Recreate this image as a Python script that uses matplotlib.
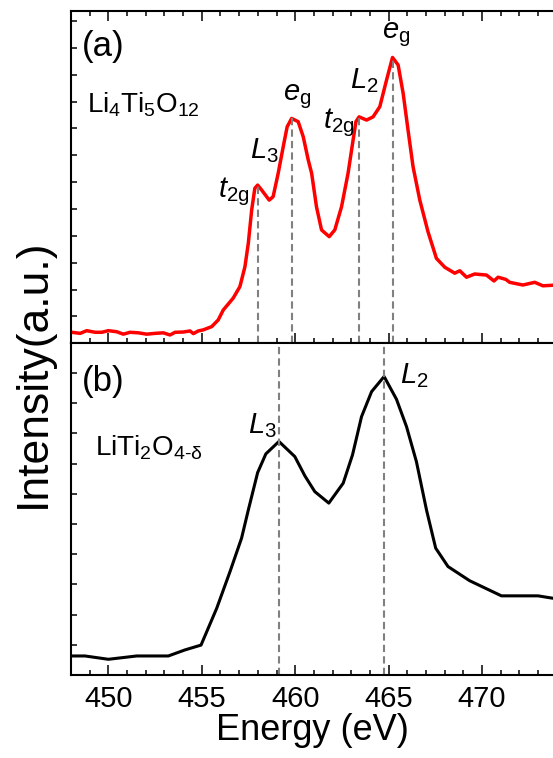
import matplotlib
matplotlib.use('Agg')
import matplotlib.pyplot as plt
from matplotlib.ticker import MultipleLocator, NullFormatter

plt.rcParams['font.family'] = ['Liberation Sans', 'DejaVu Sans']
plt.rcParams['mathtext.fontset'] = 'custom'
plt.rcParams['mathtext.rm'] = 'Liberation Sans'
plt.rcParams['mathtext.it'] = 'Liberation Sans:italic'
plt.rcParams['mathtext.bf'] = 'Liberation Sans:bold'

# (a) Li4Ti5O12, red curve
energy_a = [448.04, 448.49, 448.84, 449.29, 449.65, 450.00, 450.45, 450.80, 451.16, 451.60,
            452.05, 452.50, 452.94, 453.30, 453.57, 454.01, 454.37, 454.55, 454.81, 455.08,
            455.53, 455.88, 456.15, 456.68, 457.04, 457.31, 457.49, 457.67, 457.84, 457.99,
            458.20, 458.61, 458.82, 459.09, 459.36, 459.57, 459.81, 460.16, 460.43, 460.70,
            460.88, 461.14, 461.41, 461.82, 462.12, 462.48, 462.83, 463.10, 463.25, 463.42,
            463.82, 464.17, 464.53, 464.89, 465.21, 465.51, 465.78, 466.04, 466.31, 466.67,
            467.11, 467.56, 468.01, 468.54, 468.81, 469.17, 469.61, 470.24, 470.64, 470.86,
            471.27, 471.48, 472.19, 472.82, 473.26, 473.77]
intensity_a = [0.41, 0.37, 0.47, 0.41, 0.41, 0.47, 0.43, 0.34, 0.41, 0.39,
               0.34, 0.37, 0.39, 0.31, 0.41, 0.42, 0.46, 0.36, 0.46, 0.50,
               0.62, 0.87, 1.24, 1.68, 2.11, 2.85, 3.72, 4.96, 5.77, 5.89,
               5.71, 5.33, 5.46, 6.33, 7.32, 8.06, 8.37, 8.25, 7.69, 6.82,
               6.33, 5.08, 4.22, 3.97, 4.22, 5.08, 6.33, 7.57, 8.25, 8.43,
               8.31, 8.43, 8.81, 9.80, 10.64, 10.36, 9.30, 7.94, 6.57, 5.33,
               4.15, 3.16, 2.83, 2.61, 2.70, 2.46, 2.58, 2.54, 2.32, 2.46,
               2.38, 2.27, 2.17, 2.27, 2.14, 2.16]

# (b) LiTi2O4-delta, black curve
energy_b = [448.0, 448.75, 450.0, 451.52, 453.21, 454.10, 454.96, 455.80, 456.51, 457.13,
            457.49, 457.99, 458.43, 459.13, 459.98, 460.52, 461.05, 461.80, 462.57, 463.07,
            463.55, 464.09, 464.76, 465.42, 465.96, 466.49, 467.03, 467.52, 468.18, 469.34,
            471.04, 473.00, 473.80]
intensity_b = [0.63, 0.63, 0.52, 0.63, 0.63, 0.83, 0.99, 2.21, 3.42, 4.53,
               5.46, 6.70, 7.32, 7.73, 7.23, 6.59, 6.07, 5.69, 6.35, 7.29,
               8.55, 9.38, 9.88, 9.13, 8.22, 7.06, 5.46, 4.20, 3.59, 3.12,
               2.62, 2.62, 2.54]

# peak markers
peaks_a = [458.0, 459.85, 463.42, 465.22]
peaks_a_height = [5.89, 8.37, 8.43, 10.64]
peaks_b = [459.12, 464.76]

labels_a = [r'$t_{\mathrm{2g}}$', r'$L_{\mathit{3}}$', r'$e_{\mathrm{g}}$',
            r'$t_{\mathrm{2g}}$', r'$L_{\mathit{2}}$', r'$e_{\mathrm{g}}$']
labels_a_pos = [(455.88, 5.45), (457.57, 6.89), (459.34, 9.05),
                (461.47, 8.01), (462.92, 9.50), (464.63, 11.36)]
labels_b = [r'$L_{\mathit{3}}$', r'$L_{\mathit{2}}$']
labels_b_pos = [(457.48, 8.01), (465.6, 9.67)]

fig = plt.figure(figsize=(5.53, 7.58), dpi=100)
ax1 = fig.add_axes([0.1284, 0.5471, 0.8716, 0.4384])
ax2 = fig.add_axes([0.1284, 0.1095, 0.8716, 0.4376])

for ax in (ax1, ax2):
    ax.set_xlim(448, 473.8)
    ax.xaxis.set_major_locator(MultipleLocator(5))
    ax.xaxis.set_minor_locator(MultipleLocator(1))
    ax.yaxis.set_major_locator(MultipleLocator(1))
    ax.yaxis.set_major_formatter(NullFormatter())
    ax.spines['right'].set_visible(False)
    for s in ax.spines.values():
        s.set_linewidth(1.5)
    ax.tick_params(which='both', direction='in', width=1.1, right=False)
    ax.tick_params(which='major', axis='x', length=7.5)
    ax.tick_params(which='minor', axis='x', length=3.6)
    ax.tick_params(axis='y', length=4.2)

ax1.set_ylim(0, 12.37)
ax1.tick_params(axis='x', which='both', top=True, labelbottom=False)
ax2.set_ylim(0, 10.98)
ax2.tick_params(axis='x', which='both', top=False, labelsize=21, pad=7)

ax1.plot(energy_a, intensity_a, color='#ff0000', lw=2.5, solid_joinstyle='round')
ax1.vlines(peaks_a, 0, peaks_a_height, colors='#808080', linestyles=(0, (3.5, 2)), lw=1.5)
for txt, (x, y) in zip(labels_a, labels_a_pos):
    ax1.text(x, y, txt, fontsize=21, ha='left', va='baseline')
ax1.text(0.023, 0.865, '(a)', transform=ax1.transAxes, fontsize=25, va='baseline')
ax1.text(0.033, 0.696, r'Li$_4$Ti$_5$O$_{12}$', transform=ax1.transAxes, fontsize=20, va='baseline')

ax2.plot(energy_b, intensity_b, color='black', lw=2.2)
for e in peaks_b:
    ax2.axvline(e, color='#808080', ls=(0, (3.5, 2)), lw=1.5)
for txt, (x, y) in zip(labels_b, labels_b_pos):
    ax2.text(x, y, txt, fontsize=21, ha='left', va='baseline')
ax2.text(0.023, 0.856, '(b)', transform=ax2.transAxes, fontsize=25, va='baseline')
ax2.text(0.05, 0.663, r'LiTi$_2$O$_{\mathrm{4\text{-}\delta}}$', transform=ax2.transAxes, fontsize=20, va='baseline')

ax2.set_xlabel('Energy (eV)', fontsize=26, labelpad=0)
fig.text(0.06, 0.508, 'Intensity(a.u.)', rotation=90, fontsize=32, ha='center', va='center')

fig.savefig('out.png', dpi=100)
